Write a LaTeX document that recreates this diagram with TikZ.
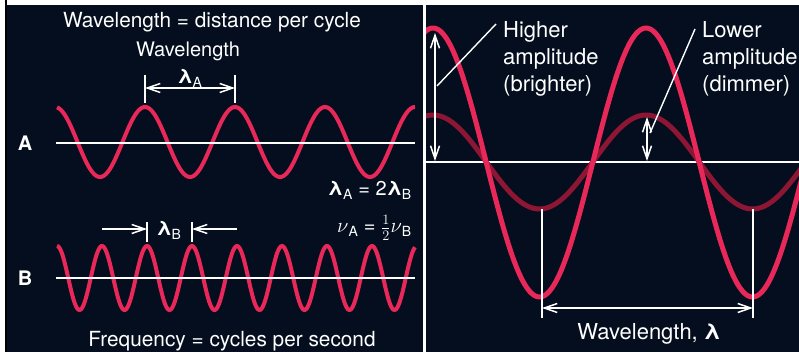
\documentclass[tikz,border=0pt]{standalone}
\usepackage{fontspec}
\setmainfont{TeX Gyre Heros}
\usetikzlibrary{arrows.meta}
\definecolor{navy}{RGB}{4,14,30}
\definecolor{wavered}{RGB}{232,40,88}
\definecolor{dimred}{RGB}{140,22,52}
\newcommand\lamsub[1]{\textbf{λ}\textsubscript{#1}}
\newcommand\nusub[1]{$\nu$\textsubscript{#1}}
\tikzset{
  lbl/.style={text=white, font=\fontsize{20}{22}\selectfont, inner sep=0pt},
  biglbl/.style={lbl, font=\fontsize{20.8}{23}\selectfont},
  rlbl/.style={text=white, font=\fontsize{22}{27}\selectfont, inner sep=0pt, align=left, anchor=north west},
  axisline/.style={white, line width=2.5pt},
  wavea/.style={wavered, line width=4pt},
  brightwave/.style={wavered, line width=5pt},
  dimwave/.style={dimred, line width=5pt},
  tickline/.style={white, line width=1.5pt},
  leader/.style={white, line width=1.4pt},
  dimarrow/.style={white, line width=1.5pt, {Straight Barb[length=13pt,width=9pt]}-{Straight Barb[length=13pt,width=9pt]}},
  onearrow/.style={white, line width=1.5pt, -{Straight Barb[length=13pt,width=9pt]}},
}
\begin{document}
\begin{tikzpicture}[x=1pt,y=-1pt]
\useasboundingbox (0,0) rectangle (799,352);
\fill[white] (0,0) rectangle (799,352);
\fill[black] (5,0) rectangle (7,352);
\fill[navy] (7,5) rectangle (423,352);
\fill[navy] (426,5) rectangle (799,352);

% ---------- left panel ----------
\node[biglbl,anchor=base] (title) at (212,27.5) {Wavelength = distance per cycle};
\node[lbl,anchor=base] (wl) at (188,57) {Wavelength};

% wave A
\draw[wavea] plot[domain=57:415,samples=240] (\x,{142-35*cos(4*(\x-145))});
\coordinate (axAl) at (56,143);
\coordinate (axAr) at (415,143);
\draw[axisline] (axAl) -- (axAr);
\node[lbl,font=\fontsize{20}{22}\selectfont\bfseries] (labA) at (25,143.5) {A};

% lambda A dimension
\coordinate (tA1t) at (145,75); \coordinate (tA1b) at (145,103);
\coordinate (tA2t) at (235,75); \coordinate (tA2b) at (235,103);
\draw[tickline] (tA1t) -- (tA1b);
\draw[tickline] (tA2t) -- (tA2b);
\coordinate (dA1) at (145,88); \coordinate (dA2) at (235,88);
\draw[dimarrow] (dA1) -- (dA2);
\node[lbl,anchor=base] (lamA) at (190,84) {\lamsub{A}};

% relations
\node[lbl,anchor=base east] (rel1) at (412,196) {\lamsub{A} = 2\lamsub{B}};
\node[lbl,anchor=base east] (rel2) at (412,233) {\nusub{A} = $\frac{1}{2}$\nusub{B}};

% wave B
\draw[wavea] plot[domain=57:415,samples=300] (\x,{278-32*cos(8*(\x-147))});
\coordinate (axBl) at (56,278);
\coordinate (axBr) at (415,278);
\draw[axisline] (axBl) -- (axBr);
\node[lbl,font=\fontsize{20}{22}\selectfont\bfseries] (labB) at (25,278) {B};

% lambda B dimension
\coordinate (tB1t) at (147,222); \coordinate (tB1b) at (147,242);
\coordinate (tB2t) at (192,222); \coordinate (tB2b) at (192,242);
\draw[tickline] (tB1t) -- (tB1b);
\draw[tickline] (tB2t) -- (tB2b);
\coordinate (aB1s) at (102,229); \coordinate (aB1e) at (147,229);
\coordinate (aB2s) at (237,229); \coordinate (aB2e) at (192,229);
\draw[onearrow] (aB1s) -- (aB1e);
\draw[onearrow] (aB2s) -- (aB2e);
\node[lbl,anchor=base] (lamB) at (169,236) {\lamsub{B}};

\node[biglbl,anchor=base] (freq) at (232,346) {Frequency = cycles per second};

% ---------- right panel ----------
\coordinate (axRl) at (426,162);
\coordinate (axRr) at (799,162);
\draw[axisline] (axRl) -- (axRr);
\begin{scope}
\clip (426,5) rectangle (799,352);
\draw[dimwave] plot[domain=420:805,samples=200] (\x,{162-47*cos(1.69014*(\x-433))});
\draw[brightwave] plot[domain=420:805,samples=200] (\x,{162.5-134.5*cos(1.69014*(\x-433))});
\end{scope}

% wavelength dimension
\coordinate (w1t) at (542,209); \coordinate (w1b) at (542,318);
\coordinate (w2t) at (753,209); \coordinate (w2b) at (753,318);
\draw[tickline] (w1t) -- (w1b);
\draw[tickline] (w2t) -- (w2b);
\coordinate (wd1) at (542,308); \coordinate (wd2) at (753,308);
\draw[dimarrow] (wd1) -- (wd2);
\node[lbl,font=\fontsize{22}{26}\selectfont,anchor=base] (wlam) at (649,339) {Wavelength, \textbf{λ}};

% higher amplitude
\coordinate (hTop) at (435,33); \coordinate (hBot) at (435,161);
\draw[dimarrow] (hTop) -- (hBot);
\node[rlbl] (higher) at (503,21) {Higher\\amplitude\\(brighter)};
\coordinate (hl1) at (437,86); \coordinate (hl2) at (496,24);
\draw[leader] (hl1) -- (hl2);

% lower amplitude
\coordinate (lTop) at (647,117); \coordinate (lBot) at (647,161);
\draw[dimarrow] (lTop) -- (lBot);
\node[rlbl] (lower) at (702,21) {Lower\\amplitude\\(dimmer)};
\coordinate (ll1) at (650,133); \coordinate (ll2) at (695,29);
\draw[leader] (ll1) -- (ll2);
\end{tikzpicture}
\end{document}
